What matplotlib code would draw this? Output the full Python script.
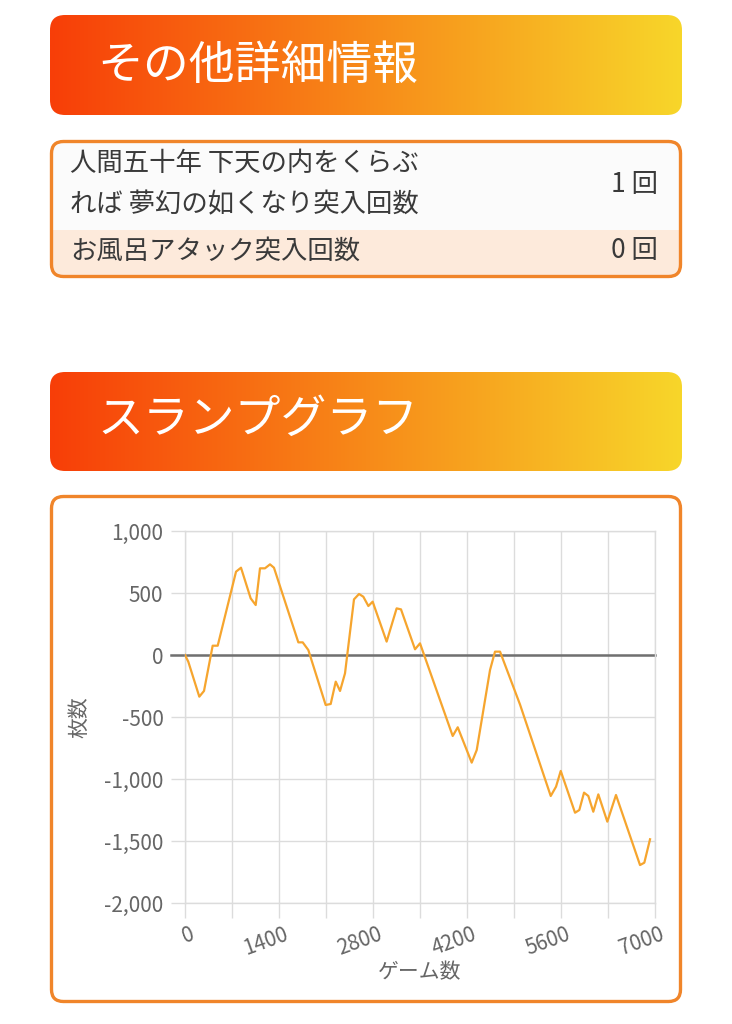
import matplotlib
matplotlib.use("Agg")
import matplotlib.pyplot as plt
import numpy as np
from matplotlib.patches import FancyBboxPatch, Rectangle
from matplotlib.transforms import ScaledTranslation
from matplotlib.ticker import FixedLocator

plt.rcParams['font.family'] = ['Noto Sans CJK JP', 'DejaVu Sans']

# ---------------- data ----------------
section_titles = ["その他詳細情報", "スランプグラフ"]
info_labels = ["人間五十年 下天の内をくらぶ\nれば 夢幻の如くなり突入回数", "お風呂アタック突入回数"]
info_values = ["1 回", "0 回"]

games = [0, 49, 213, 283, 412, 487, 760, 834, 978, 1053, 1117, 1191, 1266, 1325,
         1688, 1753, 1837, 2095, 2170, 2245, 2309, 2383, 2517, 2592, 2656, 2731,
         2795, 3003, 3152, 3217, 3426, 3500, 3987, 4062, 4270, 4345, 4543, 4617,
         4692, 4990, 5447, 5526, 5596, 5809, 5873, 5943, 6007, 6081, 6156, 6290,
         6419, 6777, 6841, 6926]
coins = [0, -54, -336, -290, 75, 75, 672, 704, 457, 403, 699, 699, 731, 704,
         102, 102, 40, -403, -395, -215, -290, -148, 449, 492, 470, 395,
         430, 108, 376, 368, 46, 94, -653, -583, -868, -766, -121, 27,
         27, -400, -1137, -1062, -935, -1272, -1250, -1110, -1137, -1264, -1124, -1344,
         -1129, -1694, -1675, -1486]

x_major_ticks = [0, 1400, 2800, 4200, 5600, 7000]
x_minor_ticks = [700, 2100, 3500, 4900, 6300]
y_ticks = [-2000, -1500, -1000, -500, 0, 500, 1000]
y_tick_labels = ["-2,000", "-1,500", "-1,000", "-500", "0", "500", "1,000"]
x_label = "ゲーム数"
y_label = "枚数"

# ---------------- figure ----------------
W, H = 732, 1024
fig = plt.figure(figsize=(W / 100, H / 100), dpi=100)
fig.patch.set_facecolor("white")

bg = fig.add_axes([0, 0, 1, 1])
bg.set_xlim(0, W)
bg.set_ylim(H, 0)
bg.axis("off")

c_left = np.array([248, 62, 8]) / 255
c_right = np.array([247, 214, 42]) / 255
t = np.linspace(0, 1, 512)
grad = (c_left[None, :] * (1 - t[:, None]) + c_right[None, :] * t[:, None])[None, :, :]

border_col = "#F0852A"
text_col = "#3a3a3a"


def banner(y0, y1, title, ty):
    patch = FancyBboxPatch((50, y0), 632, y1 - y0,
                           boxstyle="round,pad=0,rounding_size=15",
                           facecolor="none", edgecolor="none")
    bg.add_patch(patch)
    im = bg.imshow(grad, extent=[50, 682, y1, y0], aspect="auto",
                   interpolation="bilinear", zorder=1)
    im.set_clip_path(patch)
    bg.text(97, ty, title, fontsize=33, color="white", ha="left",
            va="center", zorder=3)


banner(15, 115, section_titles[0], 66)
banner(372, 471, section_titles[1], 420)

# table box
tbl = FancyBboxPatch((51.5, 141.5), 629, 135,
                     boxstyle="round,pad=0,rounding_size=12",
                     facecolor="none", edgecolor=border_col, linewidth=2.4, zorder=5)
bg.add_patch(tbl)
r1 = Rectangle((50, 140), 632, 90, facecolor="#FBFBFB", edgecolor="none", zorder=2)
r2 = Rectangle((50, 230), 632, 48, facecolor="#FDEADB", edgecolor="none", zorder=2)
bg.add_patch(r1)
bg.add_patch(r2)
r1.set_clip_path(tbl)
r2.set_clip_path(tbl)

bg.text(70, 184, info_labels[0], fontsize=19, color=text_col, ha="left",
        va="center", linespacing=1.65, zorder=6)
bg.text(658, 185, info_values[0], fontsize=19, color=text_col, ha="right",
        va="center", zorder=6)
bg.text(70, 251, info_labels[1], fontsize=19, color=text_col, ha="left",
        va="center", zorder=6)
bg.text(658, 251, info_values[1], fontsize=19, color=text_col, ha="right",
        va="center", zorder=6)

# chart box
cbox = FancyBboxPatch((51.5, 496.5), 629, 505,
                      boxstyle="round,pad=0,rounding_size=12",
                      facecolor="white", edgecolor=border_col, linewidth=2.4, zorder=2)
bg.add_patch(cbox)

# ---------------- chart ----------------
px0, px1, py0, py1 = 185, 655, 531, 903
ax = fig.add_axes([px0 / W, 1 - py1 / H, (px1 - px0) / W, (py1 - py0) / H])
ax.set_facecolor("none")
ax.set_xlim(0, 7000)
ax.set_ylim(-2000, 1000)

grid_col = "#DCDCDC"
ax.xaxis.set_major_locator(FixedLocator(x_major_ticks))
ax.xaxis.set_minor_locator(FixedLocator(x_minor_ticks))
ax.set_xticks(x_major_ticks)
ax.set_xticklabels([str(v) for v in x_major_ticks])
ax.set_yticks(y_ticks)
ax.set_yticklabels(y_tick_labels)

ax.grid(True, which="both", color=grid_col, linewidth=1.0)
for s in ax.spines.values():
    s.set_color(grid_col)
    s.set_linewidth(1.0)

ax.tick_params(axis="y", which="both", length=10, width=1.0, color=grid_col,
               pad=5.5, labelsize=15, labelcolor="#666666")
ax.tick_params(axis="x", which="both", length=11, width=1.0, color=grid_col,
               pad=3.5, labelsize=15, labelcolor="#666666")

for lab in ax.get_xticklabels():
    lab.set_rotation(20)
    lab.set_ha("right")
    lab.set_va("top")
    lab.set_rotation_mode("anchor")
    lab.set_transform(lab.get_transform() + ScaledTranslation(5 / 100, 0, fig.dpi_scale_trans))

ax.axhline(0, xmin=-14 / 470, xmax=1, color="#707070", linewidth=1.8,
           clip_on=False, zorder=2)

ax.plot(games, coins, color="#F6A52E", linewidth=1.6, zorder=3,
        solid_joinstyle="round")

ax.set_axisbelow(True)

bg.text(79, 717, y_label, fontsize=15, color="#666666", rotation=90,
        ha="center", va="center", zorder=6)
bg.text(420, 972, x_label, fontsize=15, color="#666666", ha="center",
        va="center", zorder=6)

fig.savefig("out.png", dpi=100)
